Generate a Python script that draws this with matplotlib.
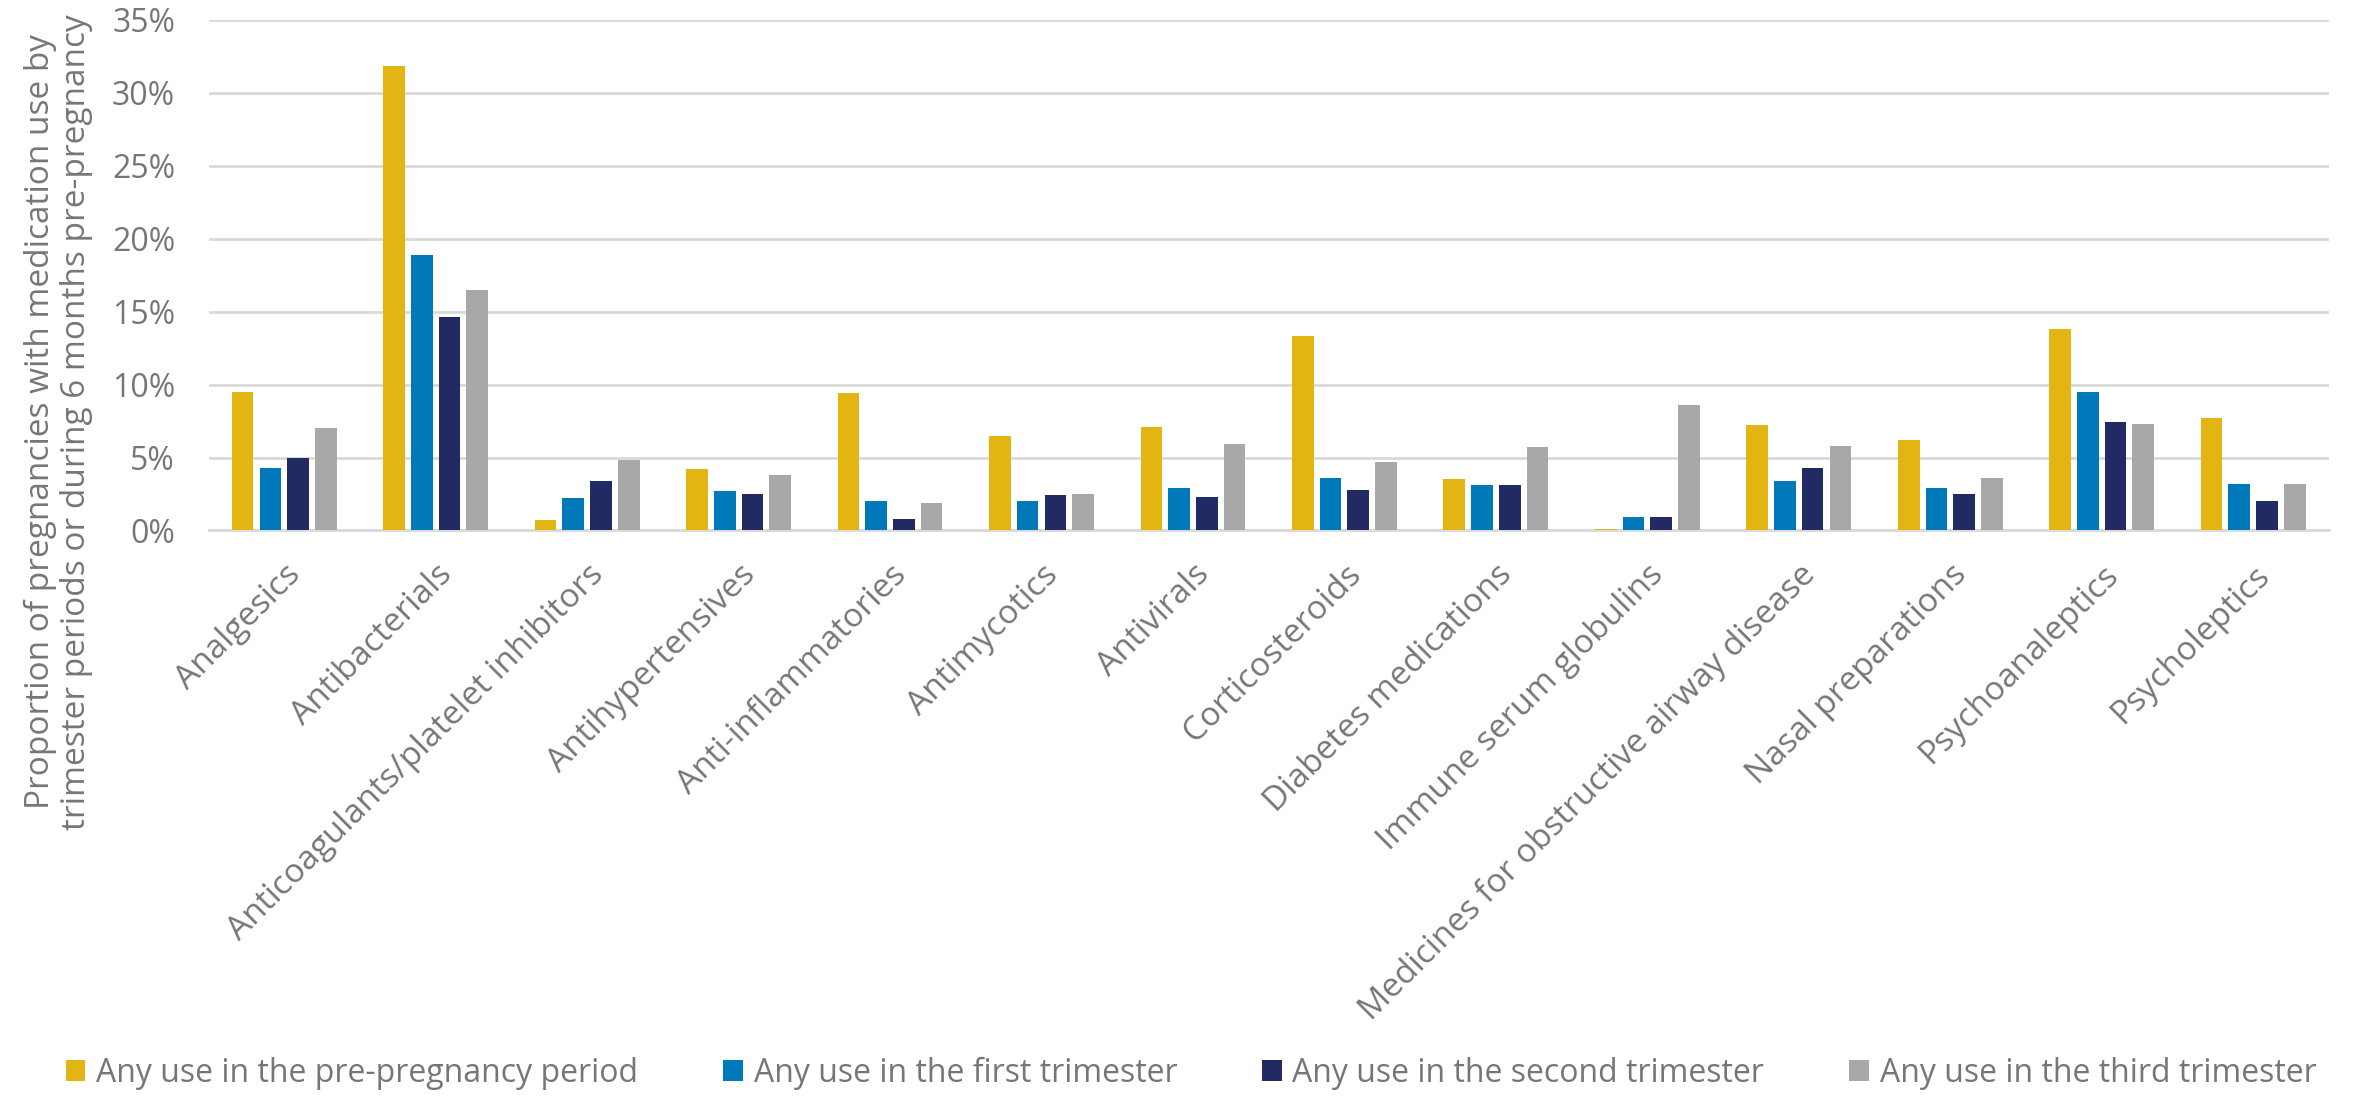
import numpy as np
import matplotlib.pyplot as plt
from matplotlib.ticker import PercentFormatter

# medication classes
categories = [
    "Analgesics", "Antibacterials", "Anticoagulants/platelet inhibitors",
    "Antihypertensives", "Anti-inflammatories", "Antimycotics", "Antivirals",
    "Corticosteroids", "Diabetes medications", "Immune serum globulins",
    "Medicines for obstructive airway disease", "Nasal preparations",
    "Psychoanaleptics", "Psycholeptics",
]

# proportion of pregnancies (%) per period
pre_pregnancy = [9.5, 31.8, 0.7, 4.2, 9.4, 6.5, 7.1, 13.3, 3.5, 0.1, 7.2, 6.2, 13.8, 7.7]
first_trim = [4.3, 18.9, 2.2, 2.7, 2.0, 2.0, 2.9, 3.6, 3.1, 0.9, 3.4, 2.9, 9.5, 3.2]
second_trim = [5.0, 14.6, 3.4, 2.5, 0.8, 2.4, 2.3, 2.8, 3.1, 0.9, 4.3, 2.5, 7.4, 2.0]
third_trim = [7.0, 16.5, 4.8, 3.8, 1.9, 2.5, 5.9, 4.7, 5.7, 8.6, 5.8, 3.6, 7.3, 3.2]

series_labels = [
    "Any use in the pre-pregnancy period",
    "Any use in the first trimester",
    "Any use in the second trimester",
    "Any use in the third trimester",
]
colors = ["#E3B512", "#0079BA", "#222A63", "#A8A8A8"]

text_color = "#767676"
grid_color = "#D9D9D9"
plt.rcParams["font.family"] = ["Open Sans", "DejaVu Sans"]

fig = plt.figure(figsize=(23.56, 10.96), dpi=100)
ax = fig.add_axes([0.0885, 0.516, 0.9, 0.466])

x = np.arange(len(categories))
step = 0.183
width = 0.143
all_series = [pre_pregnancy, first_trim, second_trim, third_trim]
for i, (vals, lab, col) in enumerate(zip(all_series, series_labels, colors)):
    ax.bar(x + (i - 1.5) * step, vals, width=width, color=col, label=lab, zorder=3)

ax.set_xlim(-0.5, len(categories) - 0.5)
ax.set_ylim(0, 35)
ax.set_yticks(np.arange(0, 36, 5))
ax.yaxis.set_major_formatter(PercentFormatter(decimals=0))
ax.grid(axis="y", color=grid_color, linewidth=2, zorder=0)

for side in ["top", "right", "left"]:
    ax.spines[side].set_visible(False)
ax.spines["bottom"].set_color(grid_color)
ax.spines["bottom"].set_linewidth(2)

ax.tick_params(axis="y", length=0, pad=24, labelsize=23, labelcolor=text_color)
ax.tick_params(axis="x", length=0, pad=20, labelsize=24, labelcolor=text_color)
ax.set_xticks(x)
ax.set_xticklabels(categories, rotation=45, ha="right", rotation_mode="anchor")

fig.text(0.0248, 0.615,
         "Proportion of pregnancies with medication use by\n"
         "trimester periods or during 6 months pre-pregnancy",
         rotation=90, ha="center", va="center", fontsize=24,
         color=text_color, linespacing=1.1)

fig.legend(loc="center", bbox_to_anchor=(0.5055, 0.021), ncol=4, frameon=False,
           fontsize=23, labelcolor=text_color, handlelength=0.62, handleheight=0.62,
           handletextpad=0.34, columnspacing=2.65)

fig.savefig("out.png", dpi=100)
